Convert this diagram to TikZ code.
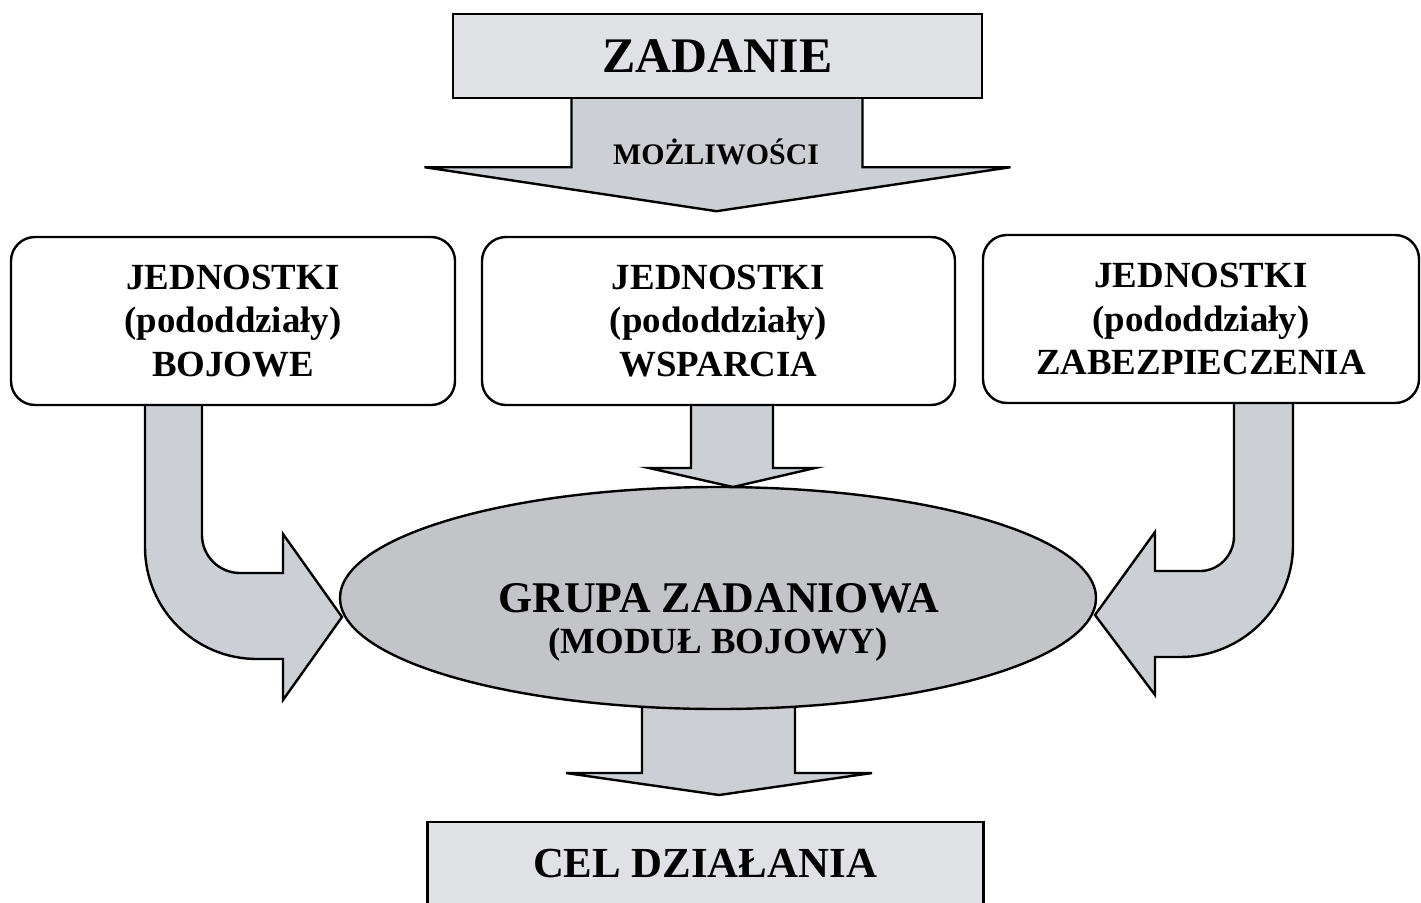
\documentclass[tikz,border=0pt]{standalone}
\usepackage{fontspec}
\setmainfont{Liberation Serif}
\usetikzlibrary{shapes.geometric,backgrounds,calc}
\definecolor{boxfill}{RGB}{223,225,228}
\definecolor{arrowfill}{RGB}{204,207,211}
\definecolor{ovalfill}{RGB}{194,196,199}
\begin{document}
\begin{tikzpicture}[x=1bp,y=-1bp,
  outline/.style={draw=black,line width=2.4bp,line join=miter},
  greybox/.style={outline,fill=boxfill,rectangle,inner sep=0pt},
  unitbox/.style={outline,fill=white,rectangle,rounded corners=24bp,inner sep=0pt,
    minimum height=168bp,align=center,font=\bfseries\fontsize{37}{43.5}\selectfont},
  blockarrow/.style={outline,fill=arrowfill},
  label/.style={inner sep=0pt,anchor=base,font=\bfseries},
]
\useasboundingbox (0,0) rectangle (1421,902);

% source and goal boxes
\node[greybox,minimum width=529bp,minimum height=84bp,
      font=\bfseries\fontsize{50}{54}\selectfont] (zadanie) at (717.5,56) {ZADANIE};
\node[greybox,minimum width=556bp,minimum height=100bp] (cel) at (705.5,872) {};
\node[label,font=\bfseries\fontsize{43}{46}\selectfont] (celtext) at (705,877) {CEL DZIAŁANIA};

% three kinds of units
\node[unitbox,minimum width=444bp] (bojowe) at (233,321)
  {JEDNOSTKI\\(pododdziały)\\BOJOWE};
\node[unitbox,minimum width=473bp] (wsparcie) at (718.5,321)
  {JEDNOSTKI\\(pododdziały)\\WSPARCIA};
\node[unitbox,minimum width=436bp] (zabezp) at (1201,319)
  {JEDNOSTKI\\(pododdziały)\\ZABEZPIECZENIA};

% task force
\node[outline,fill=ovalfill,ellipse,inner sep=0pt,
      minimum width=756bp,minimum height=222bp] (grupa) at (718,598) {};
\node[label,font=\bfseries\fontsize{44}{48}\selectfont] (grupaA) at (719,612) {GRUPA ZADANIOWA};
\node[label,font=\bfseries\fontsize{37}{40}\selectfont] (grupaB) at (718,653) {(MODUŁ BOJOWY)};

\begin{scope}[on background layer]
  % capabilities arrow
  \draw[blockarrow] ($(zadanie.south)+(-146,-8)$) -- ++(0,76) -- ++(-147,0)
     -- ($(zadanie.south)+(-1,112)$) -- ($(zadanie.south)+(293,68)$) -- ++(-148,0)
     -- ($(zadanie.south)+(145,-8)$) -- cycle;
  % support units into the task force
  \draw[blockarrow] (691,400) -- (691,468) -- (649,468) -- (733,487)
     -- (815,468) -- (773,468) -- (773,400) -- cycle;
  % task force to the goal
  \draw[blockarrow] (642,690) -- (642,773) -- (566,773) -- (719,795)
     -- (872,773) -- (795,773) -- (795,690) -- cycle;
  % combat units, bent arrow from the left
  \draw[blockarrow] (145,400) -- (145,547) .. controls (145,609) and (195,659) .. (257,659)
     -- (283,659) -- (283,700) -- (342,617) -- (283,534) -- (283,573) -- (240,573)
     .. controls (219,573) and (202,556) .. (202,535) -- (202,400) -- cycle;
  % security units, bent arrow from the right
  \draw[blockarrow] (1293,400) -- (1293,545) .. controls (1293,607) and (1242,657) .. (1180,657)
     -- (1155,657) -- (1155,695) -- (1095,615) -- (1155,532) -- (1155,571) -- (1200,571)
     .. controls (1219,571) and (1234,555) .. (1234,536) -- (1234,400) -- cycle;
\end{scope}

\node[inner sep=0pt,font=\bfseries\fontsize{30}{32}\selectfont] (mozliwosci) at (716,152) {MOŻLIWOŚCI};
\end{tikzpicture}
\end{document}
